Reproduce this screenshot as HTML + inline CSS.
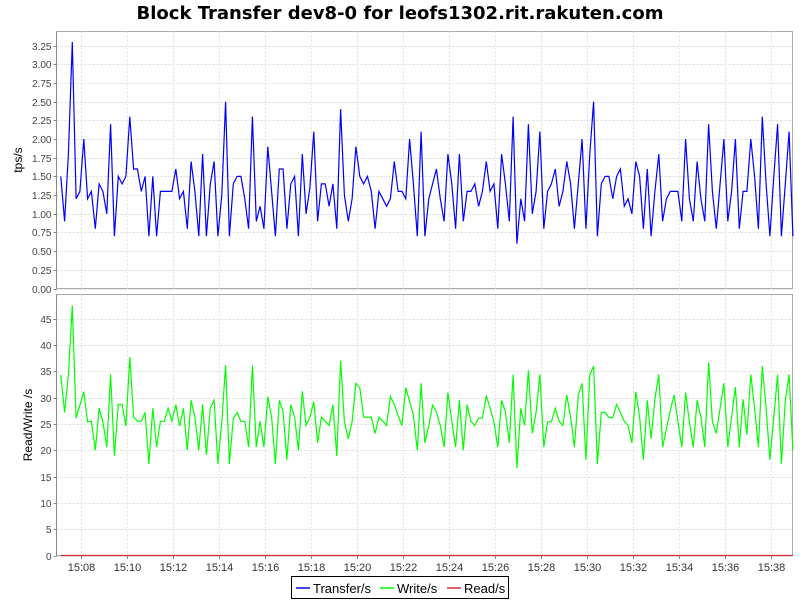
<!DOCTYPE html>
<html><head><meta charset="utf-8"><style>
body{margin:0;background:#fff;}
svg text{font-family:"Liberation Sans","DejaVu Sans",sans-serif;}
</style></head><body>
<svg id="chart" width="800" height="600" xmlns="http://www.w3.org/2000/svg">
<rect width="800" height="600" fill="#fff"/>
<text x="400" y="19" text-anchor="middle" font-size="18" font-weight="bold" style="font-family:'DejaVu Sans',sans-serif">Block Transfer dev8-0 for leofs1302.rit.rakuten.com</text>
<g id="top"></g><g id="bottom"></g><g id="xaxis"></g>
<g>
<rect x="291.5" y="576.5" width="217" height="22" fill="#fff" stroke="#000"/>
<line x1="296" y1="588" x2="310" y2="588" stroke="#0000ff" stroke-width="1.5"/>
<text x="313" y="593" font-size="13">Transfer/s</text>
<line x1="380" y1="588" x2="394" y2="588" stroke="#00ff00" stroke-width="1.5"/>
<text x="397" y="593" font-size="13">Write/s</text>
<line x1="447" y1="588" x2="461" y2="588" stroke="#d03030" stroke-width="1.5"/>
<text x="464" y="593" font-size="13">Read/s</text>
</g>
</svg>
<script>
const transfer=[1.5,0.9,1.8,3.3,1.2,1.3,2.0,1.2,1.3,0.8,1.4,1.3,1.0,2.2,0.7,1.5,1.4,1.5,2.3,1.6,1.6,1.3,1.5,0.7,1.5,0.7,1.3,1.3,1.3,1.3,1.6,1.2,1.3,0.8,1.7,1.3,0.7,1.8,0.7,1.4,1.7,0.7,1.25,2.5,0.7,1.4,1.5,1.5,1.2,0.8,2.3,0.9,1.1,0.8,1.9,1.3,0.7,1.6,1.6,0.8,1.4,1.5,0.7,1.8,1.0,1.35,
2.1,0.9,1.4,1.4,1.1,1.4,0.8,2.4,1.25,0.9,1.2,1.9,1.5,1.4,1.5,1.3,0.8,1.3,1.2,1.1,1.2,1.7,1.3,1.3,1.2,2.0,1.4,0.7,2.1,0.7,1.2,1.4,1.6,1.2,0.9,1.8,1.4,0.8,1.8,0.9,1.3,1.3,1.4,1.1,1.3,1.7,1.3,1.4,0.8,1.8,1.4,0.9,2.3,0.6,1.2,0.9,2.2,1.0,1.3,2.1,0.8,1.3,1.4,
1.6,1.1,1.3,1.7,1.4,0.8,1.4,2.0,0.8,1.8,2.5,0.7,1.4,1.5,1.5,1.2,1.5,1.6,1.1,1.2,1.0,1.7,1.5,0.8,1.6,0.7,1.3,1.8,0.9,1.2,1.3,1.3,1.3,0.9,2.0,1.2,0.9,1.7,1.2,0.9,2.2,1.3,0.8,1.4,2.0,0.9,1.3,2.0,0.8,1.3,1.3,2.0,1.5,0.8,2.3,1.4,0.7,1.5,2.2,0.7,1.4,2.1,0.7];
const write=[34.3,27.2,34.3,47.5,26.1,28.6,31.1,25.4,25.5,20,28,25.4,20.6,34.4,18.9,28.7,28.7,24.6,37.7,26.3,25.5,25.5,27.2,17.4,28,20.6,25.5,25.5,28,25.5,28.7,24.6,28,20,29.5,26.3,20,28.7,19.1,28,29.5,17.4,25.4,36.2,17.4,26.1,27.2,25.5,25.5,20.6,36.1,20.6,25.5,20.6,30.2,26.3,17.4,29.5,27.3,18.2,28.7,26.3,20,31.2,24.7,26.3,
29.2,21.4,26.3,25.5,24.7,28.7,18.9,37,25.4,22.2,25.4,32.7,31.9,26.3,26.3,26.3,23.2,26.3,25.5,24.7,30.2,28.7,26.6,24.7,31.9,29.3,26.6,20,32.7,21.4,24.7,28.6,27.3,24.7,20.6,31,25.5,20.6,29.5,20,28.7,25.5,24.7,26.1,26.1,30.4,28,25.4,20.6,29.5,27.3,21.4,34.4,16.6,28,24.7,35.2,23.2,27.2,34.4,20.6,25.4,25.4,
28,25.5,24.7,30.5,26.3,20.6,30.5,32.7,18.2,34.3,36,17.4,27.2,27.2,26.2,26.2,28.7,27.2,25.5,24.7,21.4,31.1,26.3,18.2,29.5,22.2,29.8,34.4,20.6,24.1,27.6,30.5,25.5,20.6,31,25.4,20.6,29.5,26.3,20.6,36.7,25.4,23.2,28,32.7,20.6,26.3,32,20.6,29.7,23,34.4,28,20.6,36,28,18.2,26.3,34.4,17.4,29.5,34.4,20];
const readVals=new Array(transfer.length).fill(0);
const xTickLabels=["15:08","15:10","15:12","15:14","15:16","15:18","15:20","15:22","15:24","15:26","15:28","15:30","15:32","15:34","15:36","15:38"];
const topTicks=[0,0.25,0.5,0.75,1,1.25,1.5,1.75,2,2.25,2.5,2.75,3,3.25];
const botTicks=[0,5,10,15,20,25,30,35,40,45];
const startSec=7*60+8, stepSec=10, firstTickSec=8*60, tickStepSec=120;
const NS="http://www.w3.org/2000/svg";
const L=56.5,R=792.5;
function xs(sec){return 80.7+(sec-480)/60*23;}
function mk(tag,attrs,parent){const e=document.createElementNS(NS,tag);for(const k in attrs)e.setAttribute(k,attrs[k]);parent.appendChild(e);return e;}
function panel(g,top,bot,max,ticks,fmt,series,label,labelX){
  const ys=v=>bot-(v/max)*(bot-top);
  mk('rect',{x:L,y:top,width:R-L,height:bot-top,fill:'#fff',stroke:'#aaa'},g);
  xTickLabels.forEach((t,i)=>{const x=Math.round(xs(firstTickSec+i*tickStepSec))+0.5;const gl=mk('line',{x1:x,y1:top,x2:x,y2:bot,stroke:'#ddd','stroke-dasharray':'2,2'},g);
    
    });
  ticks.forEach(v=>{const y=Math.round(ys(v))+0.5;
    const gl=mk('line',{x1:L,y1:y,x2:R,y2:y,stroke:'#ddd','stroke-dasharray':'2,2'},g);
    
    
    mk('line',{x1:L-3,y1:y,x2:L,y2:y,stroke:'#888'},g);
    const t=mk('text',{x:L-5,y:y+3.5,'font-size':'10','text-anchor':'end',fill:'#444'},g);t.textContent=fmt(v);
    
    });
  mk('line',{x1:L,y1:top,x2:L,y2:bot,stroke:'#888'},g);
  series.forEach(s=>{const pts=s.data.map((v,i)=>xs(startSec+i*stepSec).toFixed(1)+','+ys(v).toFixed(1)).join(' ');
    const p=mk('polyline',{points:pts,fill:'none',stroke:s.color,'stroke-width':'1.2'},g);
    
    });
  const lt=mk('text',{x:labelX,y:(top+bot)/2,'font-size':'12','text-anchor':'middle',transform:`rotate(-90 ${labelX} ${(top+bot)/2})`},g);lt.textContent=label;
  
  
}
panel(document.getElementById('top'),31.5,288.5,3.44,topTicks,v=>v.toFixed(2),[{data:transfer,color:'#0000ff',name:'transfer-line'}],'tps/s',22);
panel(document.getElementById('bottom'),294.5,555.5,49.6,botTicks,v=>String(v),[{data:write,color:'#00ff00',name:'write-line'},{data:readVals,color:'#d03030',name:'read-line'}],'Read/Write /s',32);
const xa=document.getElementById('xaxis');
xTickLabels.forEach((t,i)=>{const x=Math.round(xs(firstTickSec+i*tickStepSec))+0.5;mk('line',{x1:x,y1:556,x2:x,y2:559,stroke:'#888'},xa);
  const tx=mk('text',{x:x,y:571,'font-size':'11','text-anchor':'middle',fill:'#333'},xa);tx.textContent=t;
  
  });
</script>
</body></html>
